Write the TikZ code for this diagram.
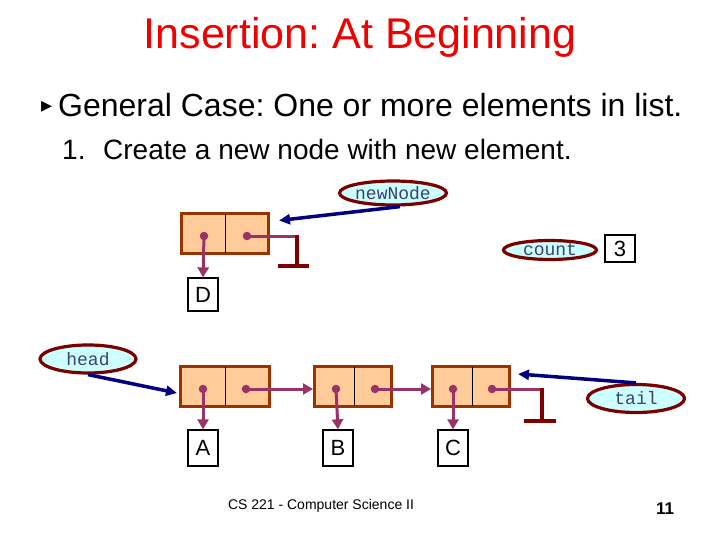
\documentclass[tikz,border=0pt]{standalone}
\usepackage{fontspec}
\setmainfont{Liberation Sans}
\newfontfamily\monofont{Liberation Mono}
\newfontfamily\symfont{DejaVu Sans}
\usetikzlibrary{shapes.geometric,arrows.meta}
\frenchspacing
\definecolor{titlered}{HTML}{F00000}
\definecolor{navy}{HTML}{000080}
\definecolor{ellborder}{HTML}{7A0000}
\definecolor{ellfill}{HTML}{CCFFFF}
\definecolor{ellText}{HTML}{3F3F70}
\definecolor{cellfill}{HTML}{FFCC99}
\definecolor{cellborder}{HTML}{993300}
\definecolor{ptrpurple}{HTML}{993366}
\definecolor{groundred}{HTML}{800000}
\tikzset{
  varell/.style={ellipse, draw=ellborder, fill=ellfill, line width=3.2pt, inner sep=0pt,
    font=\monofont\fontsize{18}{18}\selectfont, text=ellText},
  listbox/.style={rectangle, draw=cellborder, fill=cellfill, line width=3pt, inner sep=0pt,
    minimum height=40pt},
  divider/.style={black, line width=0.9pt},
  valbox/.style={rectangle, draw=black, line width=1.3pt, inner sep=0pt,
    minimum width=30pt, minimum height=33pt, font=\fontsize{22}{22}\selectfont},
  ptrdot/.style={circle, fill=ptrpurple, inner sep=0pt, minimum size=8.5pt},
  ptrline/.style={ptrpurple, line width=3pt},
  ptrarrow/.style={ptrline, -{Triangle[length=10pt,width=11pt]}},
  namearrow/.style={navy, line width=3.5pt, -{Triangle[length=11pt,width=10pt]}},
  groundline/.style={groundred, line width=3.5pt},
}
\begin{document}
\begin{tikzpicture}[x=1pt,y=-1pt]
\useasboundingbox (0,0) rectangle (720,540);

% texts
\node[anchor=base, text=titlered, font=\fontsize{43}{43}\selectfont, inner sep=0pt] (title) at (360,49) {Insertion: At Beginning};
\node[anchor=base west, font=\symfont\fontsize{22}{22}\selectfont, inner sep=0pt] (bullet) at (41,113) {▸};
\node[anchor=base west, font=\fontsize{32}{32}\selectfont, inner sep=0pt] (l1) at (58,117) {General Case: One or more elements in list.};
\node[anchor=base west, font=\fontsize{28}{28}\selectfont, inner sep=0pt] (num) at (62,160) {1.};
\node[anchor=base west, font=\fontsize{28}{28}\selectfont, inner sep=0pt] (l2) at (103,160) {Create a new node with new element.};
\node[anchor=base, font=\fontsize{14}{14}\selectfont, inner sep=0pt] (foot) at (321,509) {CS 221 - Computer Science II};
\node[anchor=base, font=\bfseries\fontsize{17}{17}\selectfont, inner sep=0pt] (page) at (665,514) {11};

% new node
\node[listbox, minimum width=87pt] (N0) at (225,233.5) {};
\draw[divider] (225,214) -- (225,253);
\node[ptrdot] (N0d) at (204,236) {};
\node[ptrdot] (N0n) at (247,236) {};
\node[valbox] (D) at (203,294.5) {D};
\draw[ptrarrow] (N0d.center) -- (D.north);
\coordinate (G0) at (297,236);
\coordinate (G0b) at (297,266);
\coordinate (G0l) at (278,266);
\coordinate (G0r) at (309,266);
\draw[ptrline] (N0n.center) -- (G0);
\draw[groundline] ([yshift=1.5pt]G0) -- (G0b);
\draw[groundline] (G0l) -- (G0r);

\node[varell, minimum width=89pt, minimum height=24pt] (nn) at (393,193) {newNode};
\draw[namearrow] ([xshift=7pt]nn.south) -- ([xshift=9pt,yshift=13pt]N0.east);

% count
\node[varell, minimum width=93pt, minimum height=19pt] (cnt) at (550,250) {count};
\node[valbox, minimum height=27pt] (three) at (620,248.5) {3};

% list
\node[listbox, minimum width=89pt] (N1) at (225,386.5) {};
\draw[divider] (225,367) -- (225,406);
\node[listbox, minimum width=77pt] (N2) at (353,386.5) {};
\draw[divider] (354,367) -- (354,406);
\node[listbox, minimum width=77pt] (N3) at (471,386.5) {};
\draw[divider] (472,367) -- (472,406);

\node[ptrdot] (N1d) at (203,389) {};
\node[ptrdot] (N1n) at (246,389) {};
\node[ptrdot] (N2d) at (336,389) {};
\node[ptrdot] (N2n) at (375,389) {};
\node[ptrdot] (N3d) at (453,389) {};
\node[ptrdot] (N3n) at (492,389) {};

\node[valbox, minimum height=36pt] (A) at (203,448) {A};
\node[valbox, minimum height=36pt] (B) at (338,448) {B};
\node[valbox, minimum height=36pt] (C) at (453,448) {C};

\draw[ptrarrow] (N1d.center) -- (A.north);
\draw[ptrarrow] (N2d.center) -- (B.north);
\draw[ptrarrow] (N3d.center) -- (C.north);
\draw[ptrarrow] (N1n.center) -- (N2.west |- N1n);
\draw[ptrarrow] (N2n.center) -- (N3.west |- N2n);

\coordinate (G3) at (542,389);
\coordinate (G3b) at (542,421);
\coordinate (G3l) at (524,421);
\coordinate (G3r) at (556,421);
\draw[ptrline] (N3n.center) -- (G3);
\draw[groundline] ([yshift=1.5pt]G3) -- (G3b);
\draw[groundline] (G3l) -- (G3r);

\node[varell, minimum width=96pt, minimum height=28pt] (head) at (88,359) {head};
\draw[namearrow] (head.south) -- ([xshift=-2pt,yshift=-6.5pt]N1.west);

\node[varell, minimum width=97pt, minimum height=28pt] (tail) at (636,398.5) {tail};
\draw[namearrow] (tail.north) -- ([xshift=7pt,yshift=12.5pt]N3.east);
\end{tikzpicture}
\end{document}
